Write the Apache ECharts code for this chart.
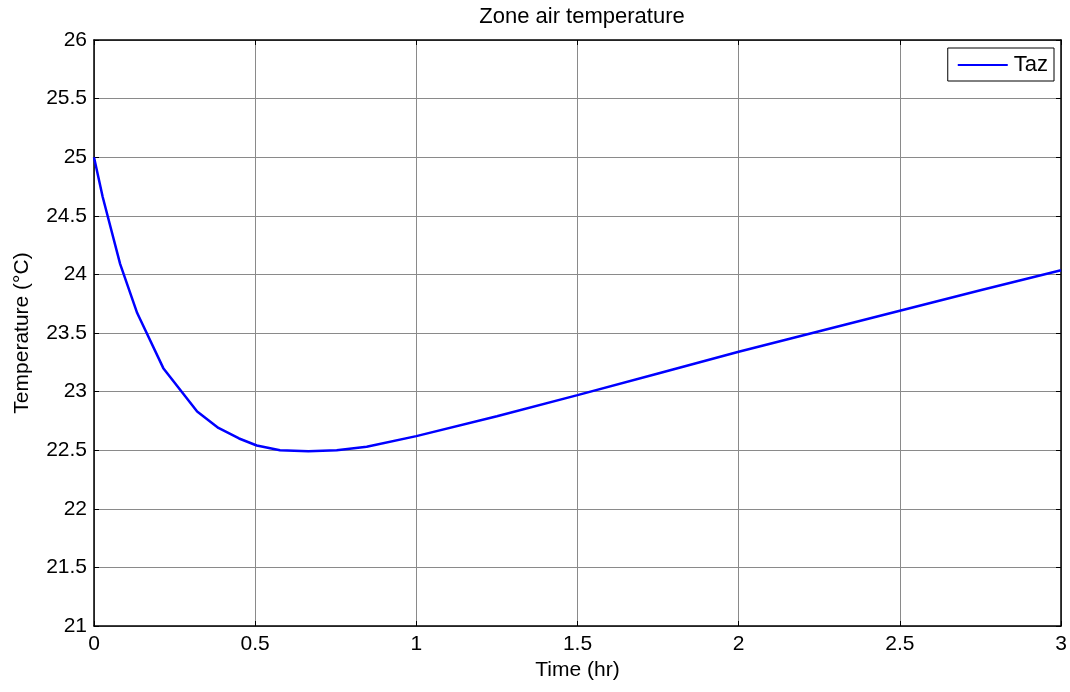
<!DOCTYPE html>
<html>
<head>
<meta charset="utf-8">
<title>Zone air temperature</title>
<script src="https://cdn.jsdelivr.net/npm/echarts@6/dist/echarts.min.js"></script>
<style>
  html, body { margin: 0; padding: 0; background: #ffffff; }
  #chart { width: 1070px; height: 692px; }
</style>
</head>
<body>
<div id="chart"></div>
<script>
// Simulated zone air temperature over a 3-hour run
const timeHr = [0, 0.027, 0.081, 0.134, 0.215, 0.32, 0.386, 0.45, 0.505, 0.577, 0.665, 0.753, 0.846, 1.0, 1.25, 1.5, 1.75, 2.0, 2.25, 2.5, 2.75, 3.0];
const tempC  = [25.0, 24.66, 24.09, 23.67, 23.20, 22.83, 22.69, 22.60, 22.54, 22.50, 22.49, 22.50, 22.53, 22.62, 22.79, 22.97, 23.155, 23.34, 23.515, 23.69, 23.865, 24.035];

const xTicks = { min: 0, max: 3, interval: 0.5 };
const yTicks = { min: 21, max: 26, interval: 0.5 };

const FONT = '"Liberation Sans", Arial, Helvetica, sans-serif';
const points = timeHr.map((t, i) => [t, tempC[i]]);

const frameLine = { show: true, onZero: false, lineStyle: { color: '#000', width: 1.5 } };
const innerTick = { show: true, inside: true, length: 5, lineStyle: { color: '#000', width: 1 } };
const gridLine = { show: true, lineStyle: { color: '#8a8a8a', width: 1, type: 'solid' } };

const chart = echarts.init(document.getElementById('chart'), null, { renderer: 'canvas' });
chart.setOption({
  backgroundColor: '#ffffff',
  animation: false,
  title: {
    text: 'Zone air temperature',
    left: 577, top: 1, textAlign: 'center',
    textStyle: { fontFamily: FONT, fontSize: 22, fontWeight: 'normal', color: '#000' }
  },
  legend: {
    right: 16, top: 48,
    orient: 'vertical',
    data: [{ name: 'Taz', icon: 'rect' }],
    itemWidth: 50, itemHeight: 2,
    padding: [6, 6, 5, 10],
    borderColor: '#000', borderWidth: 1,
    backgroundColor: '#fff',
    textStyle: { fontFamily: FONT, fontSize: 22, color: '#000', padding: [0, 0, 0, 1] }
  },
  grid: { left: 94, right: 9, top: 40, bottom: 66, containLabel: false },
  xAxis: [
    {
      type: 'value', position: 'bottom',
      min: xTicks.min, max: xTicks.max, interval: xTicks.interval,
      name: 'Time (hr)', nameLocation: 'middle', nameGap: 32,
      nameTextStyle: { fontFamily: FONT, fontSize: 21, color: '#000' },
      axisLine: frameLine, axisTick: innerTick, splitLine: gridLine,
      axisLabel: { fontFamily: FONT, fontSize: 21, color: '#000', margin: 8 }
    },
    {
      type: 'value', position: 'top',
      min: xTicks.min, max: xTicks.max, interval: xTicks.interval,
      axisLine: frameLine, axisTick: innerTick,
      splitLine: { show: false }, axisLabel: { show: false }
    }
  ],
  yAxis: [
    {
      type: 'value', position: 'left',
      min: yTicks.min, max: yTicks.max, interval: yTicks.interval,
      name: 'Temperature (°C)', nameLocation: 'middle', nameGap: 61, nameRotate: 90,
      nameTextStyle: { fontFamily: FONT, fontSize: 21, color: '#000' },
      axisLine: frameLine, axisTick: innerTick, splitLine: gridLine,
      axisLabel: { fontFamily: FONT, fontSize: 21, color: '#000', margin: 7 }
    },
    {
      type: 'value', position: 'right',
      min: yTicks.min, max: yTicks.max, interval: yTicks.interval,
      axisLine: frameLine, axisTick: innerTick,
      splitLine: { show: false }, axisLabel: { show: false }
    }
  ],
  series: [
    {
      name: 'Taz', type: 'line',
      xAxisIndex: 0, yAxisIndex: 0,
      data: points,
      showSymbol: false, symbol: 'none', smooth: false,
      lineStyle: { color: '#0000ff', width: 2.5 },
      itemStyle: { color: '#0000ff' }
    }
  ]
});
</script>
</body>
</html>
